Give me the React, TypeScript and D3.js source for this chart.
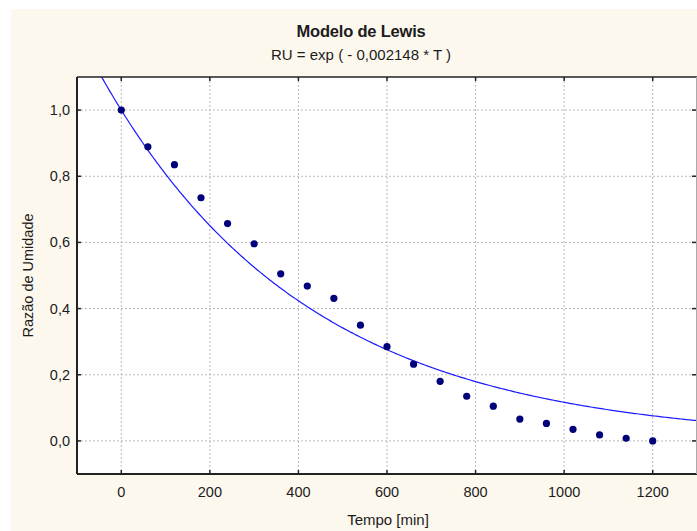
import React from "react";
import * as d3 from "d3";

// Observed moisture ratio over drying time
const tempo = [0, 60, 120, 180, 240, 300, 360, 420, 480, 540, 600, 660, 720, 780, 840, 900, 960, 1020, 1080, 1140, 1200];
const razao = [1.0, 0.889, 0.835, 0.735, 0.657, 0.596, 0.505, 0.468, 0.431, 0.35, 0.285, 0.232, 0.18, 0.135, 0.105, 0.066, 0.053, 0.035, 0.018, 0.008, 0.0];

// Lewis model coefficient
const k = 0.002148;

const xTicks = [0, 200, 400, 600, 800, 1000, 1200];
const yTicks = [0, 0.2, 0.4, 0.6, 0.8, 1.0];
const xDomain = [-100, 1300];
const yDomain = [-0.1, 1.1];

const W = 697;
const H = 531;
const plot = { left: 77, right: 697, top: 77, bottom: 474 };
const font = "'Liberation Sans', Arial, sans-serif";
const textColor = "#1c1c1c";

export default function App() {
  const x = d3.scaleLinear().domain(xDomain).range([plot.left, plot.right]);
  const y = d3.scaleLinear().domain(yDomain).range([plot.bottom, plot.top]);

  const curveT = d3.range(xDomain[0], xDomain[1] + 1, 4);
  const line = d3
    .line<number>()
    .x((t) => x(t))
    .y((t) => y(Math.exp(-k * t)));

  const fmt = (v: number) => v.toFixed(1).replace(".", ",");

  return (
    <svg
      width={W}
      height={H}
      style={{ position: "absolute", left: 0, top: 0, background: "#ffffff" }}
    >
      <defs>
        <clipPath id="plot-clip">
          <rect x={plot.left} y={plot.top} width={plot.right - plot.left} height={plot.bottom - plot.top} />
        </clipPath>
      </defs>
      <rect x={11} y={9} width={W - 11} height={H - 9} fill="#fdf8ee" />
      <rect x={plot.left} y={plot.top} width={plot.right - plot.left} height={plot.bottom - plot.top} fill="#ffffff" />

      {/* grid */}
      {xTicks.map((t) => (
        <line key={"gx" + t} x1={x(t)} x2={x(t)} y1={plot.top} y2={plot.bottom} stroke="#b8b8b8" strokeWidth={1} strokeDasharray="2,2" />
      ))}
      {yTicks.map((v) => (
        <line key={"gy" + v} x1={plot.left} x2={plot.right} y1={y(v)} y2={y(v)} stroke="#b8b8b8" strokeWidth={1} strokeDasharray="2,2" />
      ))}

      {/* fitted curve */}
      <path d={line(curveT) || ""} fill="none" stroke="#1a1aff" strokeWidth={1.2} clipPath="url(#plot-clip)" />

      {/* observations */}
      {tempo.map((t, i) => (
        <circle key={"p" + t} cx={x(t)} cy={y(razao[i])} r={3.6} fill="#00007a" />
      ))}

      {/* frame */}
      <line x1={plot.left} x2={plot.right} y1={plot.top} y2={plot.top} stroke="#222" strokeWidth={1.5} />
      <line x1={plot.left} x2={plot.right} y1={plot.bottom} y2={plot.bottom} stroke="#222" strokeWidth={2} />
      <line x1={plot.left} x2={plot.left} y1={plot.top} y2={plot.bottom} stroke="#222" strokeWidth={2} />
      <line x1={696.5} x2={696.5} y1={plot.top} y2={plot.bottom} stroke="#aaa" strokeWidth={1} />

      {/* ticks */}
      {xTicks.map((t) => (
        <g key={"tx" + t}>
          <line x1={x(t)} x2={x(t)} y1={plot.bottom} y2={plot.bottom - 4} stroke="#222" strokeWidth={1.5} />
          <line x1={x(t)} x2={x(t)} y1={plot.top} y2={plot.top + 4} stroke="#222" strokeWidth={1.5} />
          <text x={x(t)} y={497} textAnchor="middle" fontFamily={font} fontSize={14.5} fill={textColor}>
            {t}
          </text>
        </g>
      ))}
      {yTicks.map((v) => (
        <g key={"ty" + v}>
          <line x1={plot.left} x2={plot.left + 4} y1={y(v)} y2={y(v)} stroke="#222" strokeWidth={1.5} />
          <line x1={plot.right - 1} x2={plot.right - 5} y1={y(v)} y2={y(v)} stroke="#222" strokeWidth={1.5} />
          <text x={70} y={y(v) + 5} textAnchor="end" fontFamily={font} fontSize={14.5} fill={textColor}>
            {fmt(v)}
          </text>
        </g>
      ))}

      {/* titles */}
      <text x={361} y={37} textAnchor="middle" fontFamily={font} fontSize={16.5} fontWeight="bold" fill={textColor} letterSpacing={-0.2}>
        Modelo de Lewis
      </text>
      <text x={361} y={60} textAnchor="middle" fontFamily={font} fontSize={15} fill={textColor}>
        RU = exp ( - 0,002148 * T )
      </text>
      <text x={388} y={525} textAnchor="middle" fontFamily={font} fontSize={15} fill={textColor}>
        Tempo [min]
      </text>
      <text
        transform={`translate(33, ${(plot.top + plot.bottom) / 2}) rotate(-90)`}
        textAnchor="middle"
        fontFamily={font}
        fontSize={14.5}
        fill={textColor}
      >
        Razão de Umidade
      </text>
    </svg>
  );
}
